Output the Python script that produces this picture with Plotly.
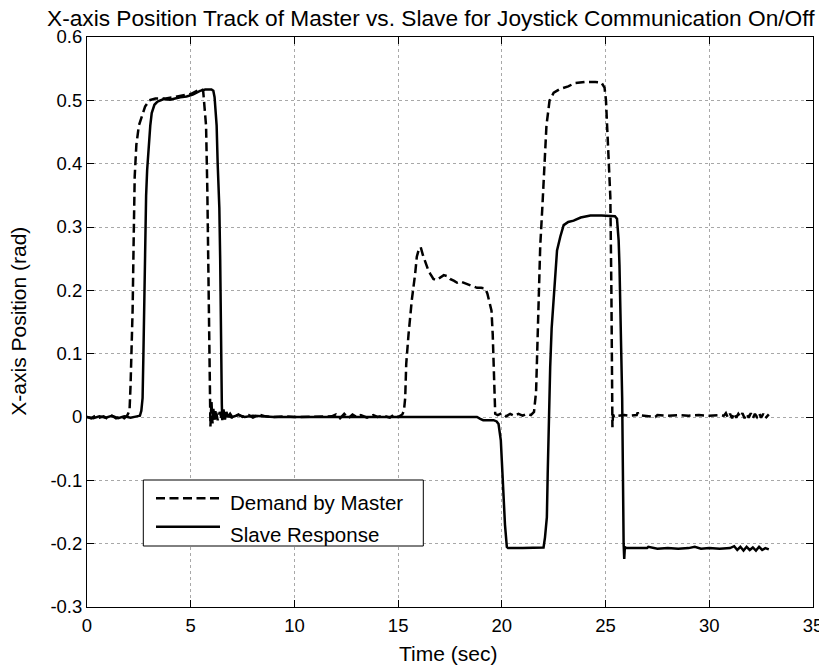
import plotly.graph_objects as go

# ---------------- data ----------------
master_t = [0.0, 0.2, 0.4, 0.6, 0.8, 1.0, 1.2, 1.4, 1.6, 1.8, 1.95, 2.05, 2.1, 2.15, 2.2, 2.25, 2.3, 2.38,
            2.5, 2.65, 2.8, 3.0, 3.3, 3.8, 4.2, 4.6, 5.0, 5.3, 5.5, 5.6, 5.68, 5.74, 5.8, 5.85, 5.88,
            5.92, 5.95, 6.0, 6.05, 6.1, 6.15, 6.2, 6.3, 6.4, 6.5, 6.7, 7.0, 7.3, 7.5, 7.8, 8.0, 8.3,
            8.6, 9.0, 9.5, 10.0, 11.0, 11.8, 12.0, 12.2, 12.4, 12.6, 12.8, 13.0, 13.2, 13.5, 13.8,
            14.0, 14.3, 14.6, 14.8, 15.0, 15.2, 15.28, 15.34, 15.39, 15.5, 15.58, 15.66, 15.82, 15.9,
            16.0, 16.09, 16.2, 16.3, 16.45, 16.55, 16.7, 16.85, 17.0, 17.2, 17.4, 17.5, 17.7, 17.84,
            18.0, 18.3, 18.6, 18.8, 19.0, 19.2, 19.3, 19.4, 19.5, 19.56, 19.62, 19.68, 19.8, 20.0,
            20.2, 20.4, 20.6, 20.8, 21.0, 21.2, 21.4, 21.55, 21.65, 21.72, 21.77, 21.85, 21.95, 22.05,
            22.15, 22.3, 22.5, 22.8, 23.2, 23.5, 24.0, 24.5, 24.8, 24.95, 25.02, 25.07, 25.15, 25.23,
            25.28, 25.31, 25.32, 25.33, 25.36, 25.4, 25.45, 25.6, 25.9, 26.2, 26.5, 26.55, 26.6, 27.0,
            27.4, 27.5, 28.0, 28.5, 29.0, 29.5, 30.0, 30.5, 30.7, 30.8, 30.9, 31.0, 31.1, 31.2, 31.3,
            31.4, 31.5, 31.6, 31.7, 31.8, 31.9, 32.0, 32.1, 32.2, 32.3, 32.4, 32.5, 32.6, 32.7, 32.87]
master_x = [0.000, -0.002, 0.002, -0.001, 0.001, -0.003, 0.002, -0.002, 0.001, -0.002, 0.003, 0.010,
            0.050, 0.100, 0.170, 0.280, 0.380, 0.430, 0.460, 0.475, 0.490, 0.500, 0.503, 0.503,
            0.505, 0.507, 0.510, 0.515, 0.518, 0.515, 0.490, 0.460, 0.360, 0.250, 0.120, 0.030,
            -0.015, 0.025, -0.010, 0.015, -0.008, 0.012, -0.005, 0.008, -0.003, 0.003, -0.001,
            0.004, 0.000, 0.003, -0.001, 0.004, 0.001, 0.000, 0.001, 0.000, 0.000, 0.001, 0.004,
            -0.002, 0.005, -0.002, 0.004, 0.000, 0.003, -0.001, 0.003, 0.000, 0.002, -0.001, 0.004,
            0.000, 0.004, 0.010, 0.030, 0.084, 0.130, 0.160, 0.185, 0.226, 0.253, 0.265, 0.268,
            0.255, 0.245, 0.232, 0.226, 0.218, 0.216, 0.220, 0.224, 0.222, 0.218, 0.215, 0.212,
            0.214, 0.210, 0.207, 0.204, 0.204, 0.203, 0.195, 0.180, 0.168, 0.130, 0.060, 0.005,
            0.003, 0.006, 0.001, 0.005, 0.002, 0.005, 0.002, 0.005, 0.003, 0.008, 0.040, 0.120,
            0.184, 0.270, 0.330, 0.400, 0.460, 0.500, 0.512, 0.518, 0.522, 0.527, 0.529, 0.529,
            0.528, 0.520, 0.500, 0.463, 0.400, 0.347, 0.200, 0.084, 0.000, -0.016, 0.004, 0.001,
            0.003, 0.002, 0.003, 0.002, 0.003, 0.007, 0.003, 0.002, 0.000, 0.003, 0.002, 0.003,
            0.002, 0.003, 0.002, 0.003, 0.002, 0.006, -0.001, 0.005, -0.002, 0.006, -0.001, 0.005,
            0.000, 0.006, -0.002, 0.005, -0.001, 0.006, -0.002, 0.005, 0.000, 0.006, -0.001, 0.005,
            -0.002, 0.004, 0.002]

slave_t = [0.0, 0.3, 0.6, 0.9, 1.2, 1.5, 1.8, 2.1, 2.4, 2.55, 2.62, 2.68, 2.72, 2.76, 2.8, 2.85, 2.9,
           2.96, 3.05, 3.12, 3.25, 3.4, 3.52, 3.7, 4.0, 4.2, 4.5, 4.8, 5.1, 5.45, 5.7, 6.0, 6.09,
           6.15, 6.2, 6.25, 6.3, 6.38, 6.42, 6.45, 6.5, 6.52, 6.58, 6.65, 6.72, 6.8, 6.9, 7.0, 7.3,
           7.6, 8.0, 9.0, 10.0, 12.0, 14.0, 16.0, 18.0, 18.8, 18.96, 19.1, 19.6, 19.75, 19.84,
           19.95, 20.0, 20.05, 20.1, 20.15, 20.24, 20.3, 21.0, 21.5, 22.01, 22.08, 22.17, 22.21,
           22.25, 22.33, 22.4, 22.49, 22.58, 22.66, 22.82, 22.98, 23.2, 23.46, 23.8, 24.27, 24.8,
           25.23, 25.45, 25.55, 25.63, 25.67, 25.71, 25.75, 25.8, 25.83, 25.85, 25.87, 25.9, 25.93,
           26.0, 26.5, 27.0, 27.06, 27.5, 28.0, 28.5, 29.0, 29.3, 29.6, 30.0, 30.5, 31.0, 31.2,
           31.35, 31.5, 31.65, 31.8, 31.95, 32.1, 32.25, 32.4, 32.55, 32.7, 32.87]
slave_x = [0.000, -0.002, 0.001, -0.001, 0.002, -0.002, 0.001, -0.001, 0.001, 0.002, 0.010, 0.030,
           0.100, 0.200, 0.290, 0.350, 0.390, 0.420, 0.460, 0.480, 0.493, 0.498, 0.500, 0.502,
           0.501, 0.503, 0.505, 0.506, 0.509, 0.515, 0.517, 0.517, 0.515, 0.505, 0.480, 0.460,
           0.400, 0.330, 0.250, 0.120, 0.020, -0.005, 0.012, -0.004, 0.008, 0.000, 0.005, 0.000,
           0.003, 0.000, 0.002, 0.000, 0.000, 0.000, 0.000, 0.000, 0.000, 0.000, -0.003, -0.005,
           -0.005, -0.007, -0.011, -0.037, -0.070, -0.105, -0.140, -0.170, -0.205, -0.207, -0.207,
           -0.206, -0.206, -0.190, -0.158, -0.090, -0.026, 0.079, 0.140, 0.184, 0.235, 0.263,
           0.285, 0.303, 0.308, 0.310, 0.315, 0.318, 0.318, 0.318, 0.317, 0.313, 0.279, 0.240,
           0.190, 0.110, 0.030, -0.100, -0.174, -0.200, -0.224, -0.205, -0.207, -0.207, -0.207,
           -0.205, -0.208, -0.207, -0.208, -0.207, -0.205, -0.208, -0.207, -0.208, -0.207,
           -0.204, -0.210, -0.205, -0.211, -0.205, -0.210, -0.206, -0.211, -0.205, -0.210,
           -0.207, -0.209]

x_ticks = [0, 5, 10, 15, 20, 25, 30, 35]
y_ticks = [-0.3, -0.2, -0.1, 0.0, 0.1, 0.2, 0.3, 0.4, 0.5, 0.6]
y_tick_labels = ["-0.3", "-0.2", "-0.1", "0", "0.1", "0.2", "0.3", "0.4", "0.5", "0.6"]
x_tick_labels = ["0", "5", "10", "15", "20", "25", "30", "35"]
series_names = ["Demand by Master", "Slave Response"]

title_text = "X-axis Position Track of Master vs. Slave for Joystick Communication On/Off"
x_title = "Time (sec)"
y_title = "X-axis Position (rad)"

# ---------------- figure ----------------
FONT = "Liberation Sans, Arial, Helvetica, sans-serif"
DASH = "9px,4.5px"
OFF = 8                      # the page body has an 8px margin
PAGE_W, PAGE_H = 827, 670
PL, PR, PT, PB = 87, 813, 37, 607   # plot area in page pixels
W, H = PAGE_W - OFF, PAGE_H - OFF
L, T = PL - OFF, PT - OFF
R, B = PAGE_W - PR, PAGE_H - PB
PW, PH = PR - PL, PB - PT


def px(xp):
    return (xp - PL) / PW


def py(yp):
    return (PB - yp) / PH


fig = go.Figure()
fig.add_trace(go.Scatter(x=master_t, y=master_x, mode="lines", name=series_names[0],
                         line=dict(color="black", width=2.5, dash=DASH), showlegend=False))
fig.add_trace(go.Scatter(x=slave_t, y=slave_x, mode="lines", name=series_names[1],
                         line=dict(color="black", width=2.5), showlegend=False))

axis_common = dict(showline=True, linecolor="black", linewidth=1, mirror="allticks",
                   ticks="inside", ticklen=7, tickcolor="black", tickwidth=1, automargin=False,
                   showgrid=True, gridcolor="#a8a8a8", gridwidth=1, griddash="dot",
                   zeroline=False, tickfont=dict(family=FONT, size=18.5, color="black"))

fig.update_xaxes(range=[0, 35], tickvals=x_ticks, ticktext=x_tick_labels, ticklabelstandoff=2,
                 **axis_common)
fig.update_yaxes(range=[-0.3, 0.6], tickvals=y_ticks, ticktext=y_tick_labels, **axis_common)

shapes = [
    dict(type="rect", xref="paper", yref="paper", x0=px(143.3), x1=px(423.3), y0=py(546), y1=py(480),
         line=dict(color="black", width=1), fillcolor="white", layer="above"),
    dict(type="line", xref="paper", yref="paper", x0=px(156), x1=px(220), y0=py(498.3), y1=py(498.3),
         line=dict(color="black", width=2.5, dash=DASH), layer="above"),
    dict(type="line", xref="paper", yref="paper", x0=px(156), x1=px(220), y0=py(526.7), y1=py(526.7),
         line=dict(color="black", width=2.5), layer="above"),
]

annotations = [
    dict(text=title_text, xref="paper", yref="paper", x=px(816), y=py(17.5), xanchor="right",
         yanchor="middle", showarrow=False, borderpad=0,
         font=dict(family=FONT, size=22.7, color="black")),
    dict(text=x_title, xref="paper", yref="paper", x=px(448), y=py(653), xanchor="center",
         yanchor="middle", showarrow=False, font=dict(family=FONT, size=21, color="black")),
    dict(text=y_title, xref="paper", yref="paper", x=px(19), y=py(321.7), xanchor="center",
         yanchor="middle", textangle=-90, showarrow=False, font=dict(family=FONT, size=21, color="black")),
    dict(text=series_names[0], xref="paper", yref="paper", x=px(228), y=py(502.5), xanchor="left",
         yanchor="middle", showarrow=False, font=dict(family=FONT, size=20.5, color="black")),
    dict(text=series_names[1], xref="paper", yref="paper", x=px(228), y=py(534), xanchor="left",
         yanchor="middle", showarrow=False, font=dict(family=FONT, size=20.5, color="black")),
]

fig.update_layout(width=W, height=H, margin=dict(l=L, r=R, t=T, b=B, pad=0, autoexpand=False),
                  paper_bgcolor="white", plot_bgcolor="white", showlegend=False,
                  shapes=shapes, annotations=annotations,
                  font=dict(family=FONT, color="black"))

fig.write_html("out.html")
